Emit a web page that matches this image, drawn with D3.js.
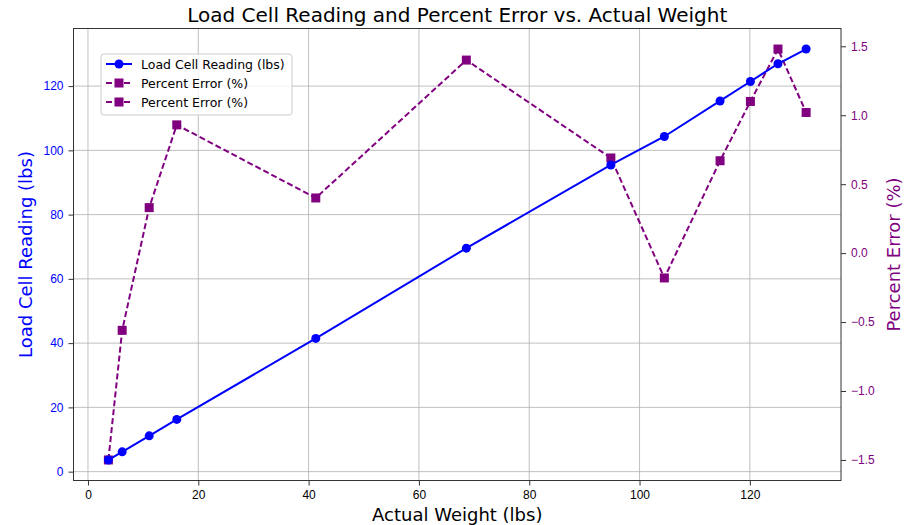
<!DOCTYPE html>
<html>
<head>
<meta charset="utf-8">
<script src="https://cdn.jsdelivr.net/npm/d3@7"></script>
<style>
  body { margin: 0; background: #fff; }
  svg { font-family: "DejaVu Sans", sans-serif; }
  .grid line { stroke: #b0b0b0; stroke-width: 0.8; }
  .axis path, .axis line { stroke: #333; }
</style>
</head>
<body>
<script>
// values
var actualWeight = [3.7, 6.2, 11.1, 16.1, 41.3, 68.6, 94.8, 104.5, 114.6, 120.1, 125.1, 130.2];
var cellReading = [3.64, 6.17, 11.14, 16.25, 41.46, 69.56, 95.45, 104.31, 115.37, 121.42, 126.95, 131.53];
var percentError = [-1.50, -0.56, 0.33, 0.93, 0.40, 1.40, 0.69, -0.18, 0.67, 1.10, 1.48, 1.02];
var xTicks = [0, 20, 40, 60, 80, 100, 120];
var leftTicks = [0, 20, 40, 60, 80, 100, 120];
var rightTicks = [-1.5, -1.0, -0.5, 0.0, 0.5, 1.0, 1.5];
var legendItems = ['Load Cell Reading (lbs)', 'Percent Error (%)', 'Percent Error (%)'];

var W = 904, H = 525;
var m = {left: 73.5, right: 841, top: 28.5, bottom: 480.5};
var blue = '#0000ff', purple = '#800080';

var svg = d3.select('body').append('svg')
  .attr('width', W).attr('height', H);

function padded(arr) {
  var lo = d3.min(arr), hi = d3.max(arr), r = hi - lo;
  return [lo - 0.05 * r, hi + 0.05 * r];
}

var x = d3.scaleLinear().domain(padded(actualWeight)).range([m.left, m.right]);
var y = d3.scaleLinear().domain(padded(cellReading)).range([m.bottom, m.top]);
var y2 = d3.scaleLinear().domain(padded(percentError)).range([m.bottom, m.top]);

// grid
svg.append('g').attr('class', 'grid')
  .selectAll('line.v').data(xTicks).enter().append('line')
    .attr('x1', function(d) { return x(d); })
    .attr('x2', function(d) { return x(d); })
    .attr('y1', m.top).attr('y2', m.bottom);
svg.append('g').attr('class', 'grid')
  .selectAll('line.h').data(leftTicks).enter().append('line')
    .attr('x1', m.left).attr('x2', m.right)
    .attr('y1', function(d) { return y(d); })
    .attr('y2', function(d) { return y(d); });

var fmt = function(d) { return d3.format('.1f')(d).replace('-', '\u2212'); };

// axes
var xAxis = svg.append('g').attr('class', 'axis')
  .attr('transform', 'translate(0,' + m.bottom + ')')
  .call(d3.axisBottom(x).tickValues(xTicks).tickSize(5).tickPadding(5).tickSizeOuter(0));
xAxis.selectAll('text').style('font-size', '12px').attr('fill', '#000');

var yAxis = svg.append('g').attr('class', 'axis')
  .attr('transform', 'translate(' + m.left + ',0)')
  .call(d3.axisLeft(y).tickValues(leftTicks).tickSize(5).tickPadding(5).tickSizeOuter(0));
yAxis.selectAll('text').style('font-size', '12px').attr('fill', blue);

var y2Axis = svg.append('g').attr('class', 'axis')
  .attr('transform', 'translate(' + m.right + ',0)')
  .call(d3.axisRight(y2).tickValues(rightTicks).tickFormat(fmt).tickSize(5).tickPadding(5).tickSizeOuter(0));
y2Axis.selectAll('text').style('font-size', '12px').attr('fill', purple);

svg.selectAll('.axis .domain').remove();

// frame
svg.append('rect')
  .attr('x', m.left).attr('y', m.top)
  .attr('width', m.right - m.left).attr('height', m.bottom - m.top)
  .attr('fill', 'none').attr('stroke', '#333').attr('stroke-width', 1);

// percent error series
var line2 = d3.line()
  .x(function(d, i) { return x(actualWeight[i]); })
  .y(function(d) { return y2(d); });
svg.append('path')
  .datum(percentError)
  .attr('d', line2)
  .attr('fill', 'none')
  .attr('stroke', purple)
  .attr('stroke-width', 2)
  .attr('stroke-dasharray', '6,3');
svg.selectAll('rect.sq').data(percentError).enter().append('rect')
  .attr('class', 'sq')
  .attr('x', function(d, i) { return x(actualWeight[i]) - 4.5; })
  .attr('y', function(d) { return y2(d) - 4.5; })
  .attr('width', 9).attr('height', 9)
  .attr('fill', purple);

// load cell series
var line1 = d3.line()
  .x(function(d, i) { return x(actualWeight[i]); })
  .y(function(d) { return y(d); });
svg.append('path')
  .datum(cellReading)
  .attr('d', line1)
  .attr('fill', 'none')
  .attr('stroke', blue)
  .attr('stroke-width', 2);
svg.selectAll('circle.pt').data(cellReading).enter().append('circle')
  .attr('class', 'pt')
  .attr('cx', function(d, i) { return x(actualWeight[i]); })
  .attr('cy', function(d) { return y(d); })
  .attr('r', 4.5)
  .attr('fill', blue);

// labels
svg.append('text')
  .attr('x', (m.left + m.right) / 2).attr('y', 22)
  .attr('text-anchor', 'middle')
  .style('font-size', '20px')
  .text('Load Cell Reading and Percent Error vs. Actual Weight');

svg.append('text')
  .attr('x', (m.left + m.right) / 2).attr('y', 521)
  .attr('text-anchor', 'middle')
  .style('font-size', '18px')
  .text('Actual Weight (lbs)');

svg.append('text')
  .attr('transform', 'translate(32,' + (m.top + m.bottom) / 2 + ') rotate(-90)')
  .attr('text-anchor', 'middle')
  .style('font-size', '18px')
  .attr('fill', blue)
  .text('Load Cell Reading (lbs)');

svg.append('text')
  .attr('transform', 'translate(900,' + (m.top + m.bottom) / 2 + ') rotate(-90)')
  .attr('text-anchor', 'middle')
  .style('font-size', '18px')
  .attr('fill', purple)
  .text('Percent Error (%)');

// legend
var lg = svg.append('g').attr('transform', 'translate(101,54)');
lg.append('rect')
  .attr('width', 191).attr('height', 61).attr('rx', 3)
  .attr('fill', '#fff').attr('fill-opacity', 0.8)
  .attr('stroke', '#ccc');
var items = lg.selectAll('g.item').data(legendItems).enter().append('g')
  .attr('transform', function(d, i) { return 'translate(0,' + (10 + i * 19) + ')'; });
items.append('line')
  .attr('x1', 5).attr('x2', 31)
  .attr('stroke', function(d, i) { return i === 0 ? blue : purple; })
  .attr('stroke-width', 2)
  .attr('stroke-dasharray', function(d, i) { return i === 0 ? null : '6,3'; });
items.each(function(d, i) {
  var g = d3.select(this);
  if (i === 0) {
    g.append('circle').attr('cx', 18).attr('r', 4.5).attr('fill', blue);
  } else {
    g.append('rect').attr('x', 13.5).attr('y', -4.5).attr('width', 9).attr('height', 9).attr('fill', purple);
  }
});
items.append('text')
  .attr('x', 40).attr('y', 4.5)
  .style('font-size', '12.5px')
  .text(function(d) { return d; });
</script>
</body>
</html>
